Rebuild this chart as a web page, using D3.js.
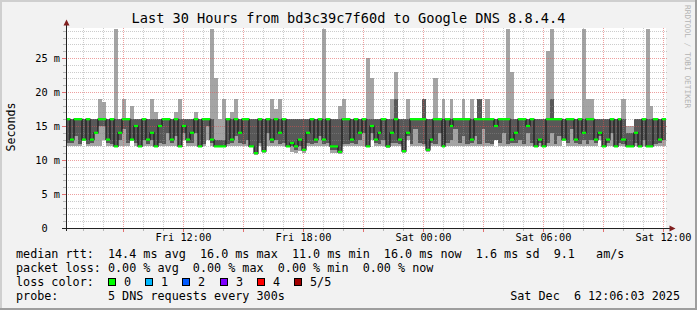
<!DOCTYPE html>
<html><head><meta charset="utf-8">
<script src="https://cdn.jsdelivr.net/npm/d3@7"></script>
<style>
html,body{margin:0;padding:0;background:#f2f2f2;}
svg{display:block;}
text{font-family:"DejaVu Sans Mono",monospace;white-space:pre;}
</style>
</head><body><svg id="c" width="697" height="310"></svg>
<script>
// ---------- data ----------
const startTime = Date.UTC(2025, 11, 5, 6, 6, 3);   // Fri 06:06:03
const endTime   = Date.UTC(2025, 11, 6, 12, 6, 3);  // Sat 12:06:03
const stepMinutes = 12;

const median = [
 16,13,16,16,13,16,13,14,16,16,
 13,16,12,14,16,16,13,15,12,16,
 13,14,12,15,16,16,13,16,12,15,
 13,14,16,12,16,16,13,12,12,12,
 16,13,16,14,16,16,12,11,16,11.3,
 16,13,16,14,16,12,12.5,12,13,11.5,
 14,16,13,16,13,16,12,12,11.2,16,
 16,13,16,14,16,12,15,13,14,16,
 12,14,16,13,11.3,14,16,16,16,16,
 11.5,13,16,16,12,16,15,16,16,16,
 16,13,16,16,16,16,16,15,16,16,
 16,13,14,16,16,15,16,12,13,12,
 16,16,16,16,13,16,16,13,16,14,
 16,16,13,14,12,13,16,12,16,13,
 12,12,14,12,16,12,12,16,13,16
];
const pingMin = [
 12,12,12,12,13,12,12,12,12,13,
 12,12,12,12,12,12,13,12,12,12,
 12,12,12,12,12,12,12,12,12,13,
 12,12,12,12,12,13,12,12,12,12,
 12,12,12,12,12,12,12,10.8,12,11,
 12,12,12,12,12,12,11.2,11,11.3,11,
 12,12,12,12,12,12,11,11,10.9,12,
 12,12,12,12,12,12,13,12,12,12,
 11.8,12,12,12,11,13,12,12,12,12,
 11.2,12,12,12,12,12,12,12,12,12,
 12,12,12,12,12,12,12,13,12,12,
 12,12,12,12,12,12,12,12,12,12,
 12,12,12,12,13,12,12,12,12,12,
 12,12,12,13,12,12,12,12,12,12,
 12,12,12,12,12,12,12,12,12,12
];
const pingLow = [
 12.5,12.5,13.5,12.3,13,12.3,12.5,14,15,15,
 12.5,12.3,12,13,14.5,12.5,13,12.5,12,13,
 12.3,13,12,12.5,12.3,14,12.5,13.5,12,14,
 12.5,12.5,14,12,12.3,15,12.5,12,12,12,
 12.3,12.5,13.5,12.5,12.3,13,12,11,12.5,11.3,
 14,12.5,13,12.3,12.5,12,12,11.5,12,11.5,
 12.5,12.3,12.5,13.5,12.3,12.5,11.5,11.5,11.2,12.3,
 12.3,12.5,12.3,13,14,12,14,12.5,12.3,13,
 12,12.5,12.5,12.3,11.3,13.5,12.3,14.5,12.5,12.3,
 11.5,12.5,12.3,14,12,12.5,13,14.5,12.5,13.5,
 12.3,12.5,13.5,12.3,14.5,12.5,12.3,13,12.5,14,
 12.3,12.5,12.5,13,12.3,14,12.5,12,12.5,12,
 12.5,14,12.3,13.5,13,12.5,14.5,12.5,12.3,13,
 12.3,13,12.5,13.5,12,12.5,14,12,12.5,12.3,
 12,12,12.5,12,13,12,12,12.3,12.5,13
];
const pingHigh = [
 16,16,16,16,16,16,16,16,16,16,
 16,16,16,16,16,16,16,16,16,16,
 16,16,16,16,16,16,16,16,16,16,
 16,16,16,16,16,16,16,13,13,13,
 16,16,16,16,16,16,16,16,16,16,
 16,16,16,16,16,16,16,16,16,16,
 16,16,16,16,16,16,16,16,16,16,
 16,16,16,16,16,16,16,16,16,16,
 16,16,19,16,16,16,16,16,16,19,
 16,16,16,16,16,16,16,16,16,16,
 16,16,16,19,16,16,16,16,16,16,
 16,16,16,16,16,16,16,16,16,16,
 16,19,16,16,16,16,16,16,16,16,
 16,16,16,16,16,16,16,16,16,16,
 14,14,16,16,16,16,16,16,16,16
];
const pingMax = [
 16,16,16,16,16,16,16,16,19,18.5,
 16,16,29.3,16,19,16,18,16,16,16,
 16,19,17,16,16,16,16,17,19,16,
 16,16,17,16,16,16,29.3,22,16,19,
 16,17,19,16,16,16,16,16,16,16,
 16,19,17.5,19,16,16,16,16,16,16,
 16,16,16,16,29.3,16,16,16,18,19,
 16,16,16,16,16,25,22,16,16,16,
 16,19,23,16,16,19,16,16,16,19,
 16,16,22,16,19,16,19,16,16,19,
 16,19,16,19,16,19,16,16,16,16,
 29.3,23,16,16,16,16,16,16,16,16,
 26,29.3,16,16,16,16,16,16,16,29.3,
 19,19,16,16,16,16,16,16,16,19,
 15,15,16,16,16,29.3,18,16,16,16
];

const yTickValues = [0, 5, 10, 15, 20, 25];
const yTickLabels = ["0", "5 m", "10 m", "15 m", "20 m", "25 m"];
const xTickTimes = [Date.UTC(2025,11,5,12), Date.UTC(2025,11,5,18), Date.UTC(2025,11,6,0), Date.UTC(2025,11,6,6), Date.UTC(2025,11,6,12)];
const xTickLabels = ["Fri 12:00", "Fri 18:00", "Sat 00:00", "Sat 06:00", "Sat 12:00"];
const lossColors = ["#00ff00", "#00b8ff", "#0059ff", "#7e00ff", "#ff0000", "#a10000"];
const lossLabels = ["0", "1", "2", "3", "4", "5/5"];
const legendLines = [
  "median rtt:  14.4 ms avg  16.0 ms max  11.0 ms min  16.0 ms now  1.6 ms sd  9.1   am/s",
  "packet loss: 0.00 % avg  0.00 % max  0.00 % min  0.00 % now",
  "loss color:",
  "probe:       5 DNS requests every 300s"
];
const titleText = "Last 30 Hours from bd3c39c7f60d to Google DNS 8.8.4.4";
const dateText = "Sat Dec  6 12:06:03 2025";

// ---------- drawing ----------
const W = 697, H = 310;
const svg = d3.select("#c");
const X0 = 66, X1 = 666, YT = 28, YB = 228;
const x = d3.scaleUtc().domain([startTime, endTime]).range([65.5, 665.5]);
const y = d3.scaleLinear().domain([0, 29.41]).range([YB, YT]);

svg.append("rect").attr("width", W).attr("height", H).attr("fill", "#f2f2f2");
// 3D frame
svg.append("path").attr("d", `M1,${H}V1H${W}`).attr("fill","none").attr("stroke","#cfcfcf").attr("stroke-width",2);
svg.append("path").attr("d", `M0,${H-1}H${W-1}V0`).attr("fill","none").attr("stroke","#9e9e9e").attr("stroke-width",2);

// canvas
svg.append("rect").attr("x", X0).attr("y", YT).attr("width", X1 - X0).attr("height", YB - YT).attr("fill", "#ffffff");

const cols = median.map((m, i) => ({
  i,
  x0: Math.round(x(startTime + i * stepMinutes * 60000)),
  x1: Math.round(x(startTime + (i + 1) * stepMinutes * 60000)),
  med: m, pmin: pingMin[i], plow: pingLow[i], phigh: pingHigh[i], pmax: pingMax[i]
}));

const gSmoke = svg.append("g").attr("shape-rendering", "crispEdges");
gSmoke.selectAll("rect.outer").data(cols).join("rect").attr("class","outer")
  .attr("x", d => d.x0).attr("width", d => Math.min(d.x1, X1) - d.x0)
  .attr("y", d => Math.round(y(d.pmax))).attr("height", d => Math.round(y(d.pmin)) - Math.round(y(d.pmax)))
  .attr("fill", "#a4a4a4");
gSmoke.selectAll("rect.inner").data(cols).join("rect").attr("class","inner")
  .attr("x", d => d.x0).attr("width", d => Math.min(d.x1, X1) - d.x0)
  .attr("y", d => Math.round(y(d.phigh))).attr("height", d => Math.round(y(d.plow)) - Math.round(y(d.phigh)))
  .attr("fill", "#585858");

// grid (drawn over smoke, semi-transparent, dotted)
const gGrid = svg.append("g").attr("shape-rendering", "crispEdges");
for (let v = 1; v <= 29; v++) {
  const major = v % 5 === 0;
  const yy = Math.round(y(v)) + 0.5;
  gGrid.append("line").attr("x1", X0).attr("x2", X1 + 2).attr("y1", yy).attr("y2", yy)
    .attr("stroke", major ? "#de5050" : "#8f8f8f").attr("stroke-opacity", major ? 0.55 : 0.45)
    .attr("stroke-dasharray", "1,1");
  gGrid.append("line").attr("x1", major ? 62 : 63).attr("x2", X0).attr("y1", yy).attr("y2", yy)
    .attr("stroke", major ? "#de5050" : "#8f8f8f").attr("stroke-opacity", major ? 0.8 : 0.6);
}
const hours = d3.utcHour.range(new Date(startTime), new Date(endTime));
hours.forEach(h => {
  const major = h.getUTCHours() % 3 === 0;
  const xx = Math.floor(x(h)) + 0.5;
  gGrid.append("line").attr("x1", xx).attr("x2", xx).attr("y1", YT).attr("y2", YB)
    .attr("stroke", major ? "#de5050" : "#8f8f8f").attr("stroke-opacity", major ? 0.55 : 0.45)
    .attr("stroke-dasharray", "1,1");
  gGrid.append("line").attr("x1", xx).attr("x2", xx).attr("y1", YB).attr("y2", major ? YB + 4 : YB + 3)
    .attr("stroke", major ? "#de5050" : "#8f8f8f").attr("stroke-opacity", major ? 0.8 : 0.6);
});

// median line: dark step connector + green segments (loss 0)
let dPath = "";
cols.forEach((c, k) => {
  const yy = y(c.med);
  dPath += (k === 0 ? `M${c.x0},${yy}` : `V${yy}`) + `H${Math.min(c.x1, X1)}`;
});
svg.append("path").attr("d", dPath).attr("fill", "none").attr("stroke", "#1a1a1a").attr("stroke-width", 1.2);
svg.append("g").selectAll("line").data(cols).join("line")
  .attr("x1", d => d.x0).attr("x2", d => Math.min(d.x1, X1))
  .attr("y1", d => y(d.med)).attr("y2", d => y(d.med))
  .attr("stroke", lossColors[0]).attr("stroke-width", 2.2);

// axes
svg.append("line").attr("x1", 66.5).attr("x2", 66.5).attr("y1", YB + 3).attr("y2", 24)
  .attr("stroke", "#212121").attr("stroke-width", 1);
svg.append("line").attr("x1", 62).attr("x2", 671).attr("y1", YB + 0.5).attr("y2", YB + 0.5)
  .attr("stroke", "#212121").attr("stroke-width", 1);
svg.append("path").attr("d", "M63.5,25.5L66.5,19.5L69.5,25.5Z").attr("fill", "#801f1f");
svg.append("path").attr("d", "M669.5,225.5L675.5,228.5L669.5,231.5Z").attr("fill", "#801f1f");

// tick labels
const axisFont = 10.3, charW = axisFont * 0.602;
svg.append("g").selectAll("text").data(yTickValues).join("text")
  .attr("x", (d, i) => yTickLabels[i].includes(" ") ? 60 : 60 - 2 * charW)
  .attr("y", d => y(d) + 3.6)
  .attr("text-anchor", "end").attr("font-size", axisFont + "px").attr("fill", "#000")
  .text((d, i) => yTickLabels[i]);
svg.append("g").selectAll("text").data(xTickTimes).join("text")
  .attr("x", d => Math.floor(x(d)) + 0.5).attr("y", 241)
  .attr("text-anchor", "middle").attr("font-size", axisFont + "px").attr("fill", "#000")
  .text((d, i) => xTickLabels[i]);

// titles
svg.append("text").attr("x", 348.5).attr("y", 23).attr("text-anchor", "middle")
  .attr("font-size", "13.6px").attr("fill", "#000").text(titleText);
svg.append("text").attr("transform", "translate(14.5,127) rotate(-90)").attr("text-anchor", "middle")
  .attr("font-size", "11.6px").attr("fill", "#000").text("Seconds");
svg.append("text").attr("transform", "translate(684.5,5) rotate(90)").attr("text-anchor", "start")
  .attr("font-size", "7.8px").attr("fill", "#b4b4b4").text("RRDTOOL / TOBI OETIKER");

// legend
const legFont = 11.75;
legendLines.forEach((t, k) => {
  svg.append("text").attr("x", 16).attr("y", 258 + 14 * k).attr("font-size", legFont + "px")
    .attr("fill", "#000").text(t);
});
lossColors.forEach((c, k) => {
  const bx = Math.round(108 + k * 37.2);
  svg.append("rect").attr("x", bx + 0.5).attr("y", 278.5).attr("width", 7).attr("height", 7)
    .attr("fill", c).attr("stroke", "#000").attr("stroke-width", 1);
  svg.append("text").attr("x", bx + 16).attr("y", 286).attr("font-size", legFont + "px")
    .attr("fill", "#000").text(lossLabels[k]);
});
svg.append("text").attr("x", 680).attr("y", 300).attr("text-anchor", "end")
  .attr("font-size", legFont + "px").attr("fill", "#000").text(dateText);
</script>
</body></html>
